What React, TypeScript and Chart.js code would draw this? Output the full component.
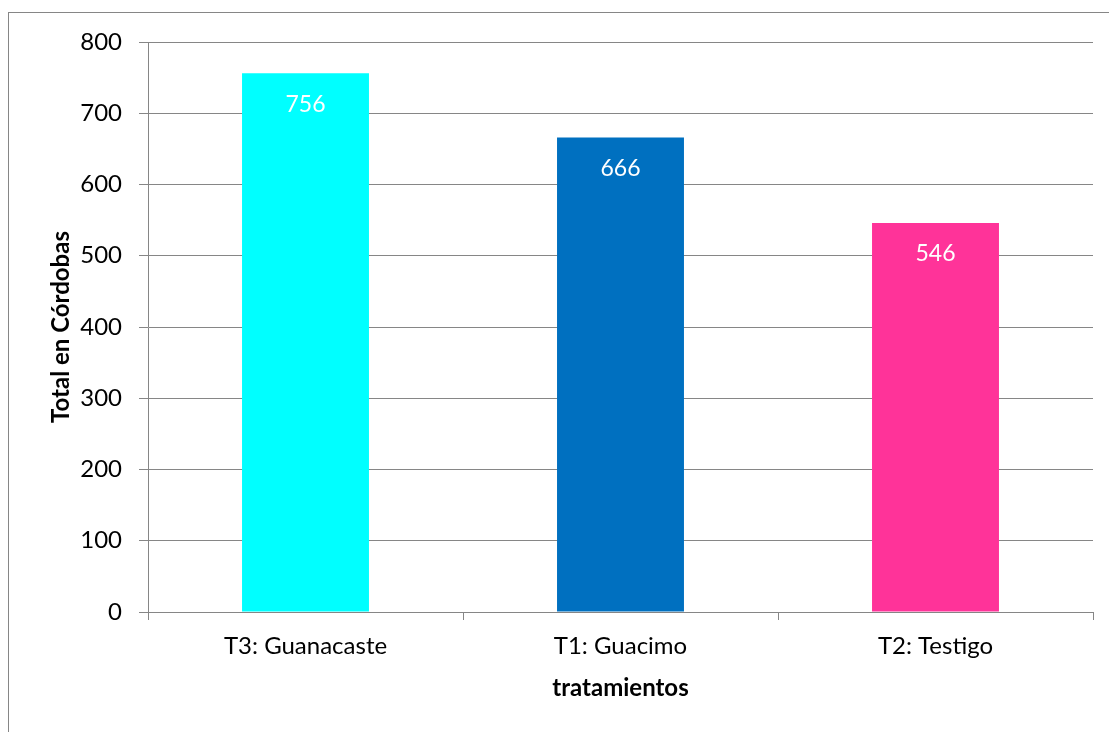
import React, { useEffect, useRef } from "react";
import { Chart, registerables } from "chart.js";

Chart.register(...registerables);

const categories = ["T3: Guanacaste", "T1: Guacimo", "T2: Testigo"];
const values = [756, 666, 546];
const barColors = ["#00FFFF", "#0070C0", "#FF3399"];
const yTitle = "Total en Córdobas";
const xTitle = "tratamientos";

const FONT = "Lato, 'Open Sans', sans-serif";

const borderPlugin = {
  id: "outerBorder",
  beforeDraw(chart: any) {
    const ctx = chart.ctx;
    ctx.save();
    ctx.fillStyle = "#ffffff";
    ctx.fillRect(0, 0, chart.width, chart.height);
    ctx.strokeStyle = "#868686";
    ctx.lineWidth = 1;
    ctx.strokeRect(8.5, 12.5, 1300, 900);
    ctx.restore();
  },
};

const labelPlugin = {
  id: "barLabels",
  afterDatasetsDraw(chart: any) {
    const ctx = chart.ctx;
    const meta = chart.getDatasetMeta(0);
    ctx.save();
    ctx.fillStyle = "#ffffff";
    ctx.font = `23px ${FONT}`;
    ctx.textAlign = "center";
    ctx.textBaseline = "middle";
    meta.data.forEach((bar: any, i: number) => {
      ctx.fillText(String(values[i]), bar.x, bar.y + 31);
    });
    ctx.restore();
  },
};

export default function App() {
  const ref = useRef<HTMLCanvasElement>(null);
  useEffect(() => {
    document.body.style.margin = "0";
    const chart = new Chart(ref.current as HTMLCanvasElement, {
      type: "bar",
      data: {
        labels: categories,
        datasets: [
          {
            data: values,
            backgroundColor: barColors,
            borderWidth: 0,
            categoryPercentage: 1,
            barPercentage: 0.403,
          },
        ],
      },
      options: {
        responsive: false,
        animation: false,
        devicePixelRatio: 1,
        layout: { padding: { left: 0, top: 42, right: 16, bottom: 0 } },
        plugins: {
          legend: { display: false },
          tooltip: { enabled: false },
        },
        scales: {
          x: {
            afterFit: (s: any) => {
              s.height = 120;
            },
            grid: {
              offset: true,
              drawOnChartArea: false,
              drawTicks: true,
              tickLength: 8,
              color: "#868686",
            },
            border: { display: true, color: "#868686" },
            ticks: {
              color: "#000000",
              font: { family: FONT, size: 24 },
              padding: 12,
              maxRotation: 0,
            },
            title: {
              display: true,
              text: xTitle,
              color: "#000000",
              font: { family: FONT, size: 24, weight: "bold" },
              padding: { top: 0, bottom: 29 },
            },
          },
          y: {
            min: 0,
            max: 800,
            afterFit: (s: any) => {
              s.width = 148;
            },
            grid: {
              drawTicks: true,
              tickLength: 9,
              color: "#868686",
            },
            border: { display: true, color: "#868686" },
            ticks: {
              stepSize: 100,
              color: "#000000",
              font: { family: FONT, size: 24 },
              padding: 17,
            },
            title: {
              display: true,
              text: yTitle,
              color: "#000000",
              font: { family: FONT, size: 24, weight: "bold" },
              padding: { top: 47, bottom: 0 },
            },
          },
        },
      },
      plugins: [borderPlugin, labelPlugin],
    });
    return () => chart.destroy();
  }, []);
  return (
    <canvas
      ref={ref}
      width={1109}
      height={732}
      style={{ position: "absolute", left: 0, top: 0, display: "block" }}
    />
  );
}
